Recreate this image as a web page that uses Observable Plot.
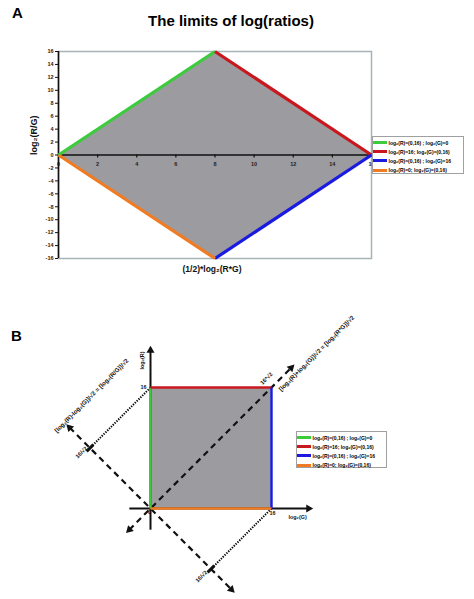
<!DOCTYPE html>
<html>
<head>
<meta charset="utf-8">
<script src="https://cdn.jsdelivr.net/npm/d3@7"></script>
<script src="https://cdn.jsdelivr.net/npm/@observablehq/plot@0.6"></script>
<style>
  body { margin: 0; background: #fff; font-family: "Liberation Sans", Arial, sans-serif; }
  #wrap { position: relative; width: 474px; height: 599px; overflow: hidden; }
  .abs { position: absolute; }
  .letter { font-weight: bold; font-size: 15px; }
  .title { font-weight: bold; font-size: 15px; text-align: center; }
  .legend { border: 1px solid #a0a0a0; background: #fff; box-sizing: border-box; padding: 1px 0 0 0; }
  .legend .row { display: flex; align-items: center; height: 9.2px; font-size: 5px; font-weight: bold; white-space: nowrap; }
  .legend .sw { width: 14px; height: 3px; margin-right: 1.5px; }
</style>
</head>
<body>
<div id="wrap"></div>
<script>
// ---------- data ----------
const seriesNames = [
  "log₂(R)=(0,16) ; log₂(G)=0",
  "log₂(R)=16; log₂(G)=(0,16)",
  "log₂(R)=(0,16) ; log₂(G)=16",
  "log₂(R)=0; log₂(G)=(0,16)"
];
const seriesColors = ["#3ccb3c", "#c8181e", "#1a1ae0", "#f07b22"];

// Panel A: x = (1/2)*log2(R*G), y = log2(R/G)
const aAreaX = [0, 8, 16];
const aAreaTop = [0, 16, 0];
const aAreaBottom = [0, -16, 0];
const aSegX1 = [0, 8, 16, 0];
const aSegY1 = [0, 16, 0, 0];
const aSegX2 = [8, 16, 8, 8];
const aSegY2 = [16, 0, -16, -16];
const aXTicks = [0, 2, 4, 6, 8, 10, 12, 14, 16];
const aYTicks = [-16, -14, -12, -10, -8, -6, -4, -2, 0, 2, 4, 6, 8, 10, 12, 14, 16];

// Panel B: x = log2(G), y = log2(R)
const bMax = 16;
const bSquareX = [0, 16];
const bSquareY = [0, 16];
const bSegX1 = [0, 0, 16, 0];
const bSegY1 = [0, 16, 16, 0];
const bSegX2 = [0, 16, 16, 16];
const bSegY2 = [16, 16, 0, 0];
const bAxisReach = [-2.8, 20.9];      // extents of the log2(G) / log2(R) axes
const bDiagReach = [-2.8, 18.6];      // extent of the R*G diagonal
const bAntiReach = 10.7;              // half extent of the R/G diagonal
const bLabelDiag = "[log₂(R)+log₂(G)]/√2 = [log₂(R*G)]/√2";
const bLabelAnti = "[log₂(R)-log₂(G)]/√2 = [log₂(R/G)]/√2";

const wrap = document.getElementById("wrap");
const font = "Liberation Sans, Arial, sans-serif";

// ---------- Panel A ----------
const aArea = aAreaX.map((x, i) => ({x, y1: aAreaBottom[i], y2: aAreaTop[i]}));
const aSegs = aSegX1.map((x1, i) => ({x1, y1: aSegY1[i], x2: aSegX2[i], y2: aSegY2[i], c: seriesColors[i]}));

const plotA = Plot.plot({
  width: 474, height: 290,
  marginLeft: 58, marginRight: 103, marginTop: 51, marginBottom: 32,
  style: {fontFamily: font, background: "transparent"},
  x: {domain: [0, 16], axis: null},
  y: {domain: [-16, 16], axis: null},
  marks: [
    Plot.areaY(aArea, {x: "x", y1: "y1", y2: "y2", fill: "#9b9ba0"}),
    Plot.frame({stroke: "#a8b3b8", strokeWidth: 1.5}),
    Plot.ruleY([0], {stroke: "#111", strokeWidth: 1.6}),
    Plot.ruleX(aXTicks.slice(1, -1), {x: d => d, y1: 0, y2: -0.45, stroke: "#111", strokeWidth: 1.2}),
    Plot.text(aXTicks, {x: d => d, y: 0, text: d => String(d), dy: 9, fontSize: 5.5, fontWeight: "bold", fill: "#222"}),
    Plot.ruleX([0], {stroke: "#111", strokeWidth: 1.6}),
    Plot.axisY(aYTicks, {ticks: aYTicks, tickSize: 3, tickPadding: 2, tickFormat: d => String(d), fontSize: 5.5, fontWeight: "bold", label: null, stroke: "#111", fill: "#222"}),
    Plot.link(aSegs, {x1: "x1", y1: "y1", x2: "x2", y2: "y2", stroke: "c", strokeWidth: 3.2}),
    Plot.text(["log₂(R/G)"], {frameAnchor: "left", text: d => d, dx: -24, rotate: -90, fontSize: 9, fontWeight: "bold", fill: "#111"}),
    Plot.text(["(1/2)*log₂(R*G)"], {frameAnchor: "bottom", text: d => d, dx: -3, dy: 13, fontSize: 8.5, fontWeight: "bold", fill: "#111"})
  ]
});
plotA.style.position = "absolute"; plotA.style.left = "0px"; plotA.style.top = "0px";
wrap.appendChild(plotA);

// ---------- Panel B ----------
const bSegs = bSegX1.map((x1, i) => ({x1, y1: bSegY1[i], x2: bSegX2[i], y2: bSegY2[i], c: seriesColors[i]}));
const proj = bMax / 2; // projection of the corners on the R/G diagonal (16/√2 along it)
const axisLines = [
  {x1: 0, y1: bAxisReach[0], x2: 0, y2: bAxisReach[1]},
  {x1: bAxisReach[0], y1: 0, x2: bAxisReach[1], y2: 0}
];
const dashLines = [
  {x1: bDiagReach[0], y1: bDiagReach[0], x2: bDiagReach[1], y2: bDiagReach[1]},
  {x1: -bAntiReach, y1: bAntiReach, x2: bAntiReach, y2: -bAntiReach}
];
const dotLines = [
  {x1: 0, y1: bMax, x2: -proj, y2: proj},
  {x1: bMax, y1: 0, x2: proj, y2: -proj}
];
const tickMarks = [
  {x1: -proj - 0.45, y1: proj - 0.45, x2: -proj + 0.45, y2: proj + 0.45},
  {x1: proj - 0.45, y1: -proj - 0.45, x2: proj + 0.45, y2: -proj + 0.45}
];
const heads = [
  {x: 0, y: bAxisReach[1], r: 0},
  {x: bAxisReach[1], y: 0, r: 90},
  {x: bDiagReach[1], y: bDiagReach[1], r: 45},
  {x: bDiagReach[0], y: bDiagReach[0], r: 225},
  {x: -bAntiReach, y: bAntiReach, r: -45},
  {x: bAntiReach, y: -bAntiReach, r: 135}
];
const bTexts = [
  {x: bDiagReach[1], y: bDiagReach[1], t: bLabelDiag, dx: 25.5, dy: -14.5, rot: -45, fs: 6.1},
  {x: -bAntiReach, y: bAntiReach, t: bLabelAnti, dx: 22, dy: -32, rot: -45, fs: 6.1},
  {x: -proj, y: proj, t: "16/√2", dx: -8.5, dy: 4.5, rot: -45, fs: 5.6},
  {x: proj, y: -proj, t: "16/√2", dx: -9.5, dy: 7.5, rot: -45, fs: 5.6},
  {x: bMax, y: bMax, t: "16*√2", dx: -5, dy: -9, rot: -45, fs: 5.6},
  {x: 0, y: bAxisReach[1], t: "log₂(R)", dx: -8, dy: 10, rot: -90, fs: 5.4},
  {x: bAxisReach[1], y: 0, t: "log₂(G)", dx: -11, dy: 9, rot: 0, fs: 5.4},
  {x: 0, y: bMax, t: "16", dx: -7, dy: 0, rot: 0, fs: 5.4},
  {x: bMax, y: 0, t: "16", dx: 1, dy: 5, rot: 0, fs: 5.4},
  {x: 0, y: 0, t: "0", dx: -1, dy: 4, rot: 0, fs: 5.4}
];

const plotB = Plot.plot({
  width: 474, height: 309,
  marginLeft: 29, marginRight: 21.5, marginTop: 6.25, marginBottom: 7.8,
  style: {fontFamily: font, background: "transparent"},
  x: {domain: [-16, 40], axis: null},
  y: {domain: [-11, 28], axis: null},
  marks: [
    Plot.rect([0], {x1: bSquareX[0], x2: bSquareX[1], y1: bSquareY[0], y2: bSquareY[1], fill: "#9b9ba0"}),
    Plot.link(dotLines, {x1: "x1", y1: "y1", x2: "x2", y2: "y2", stroke: "#000", strokeWidth: 2, strokeDasharray: "1.3,1.3"}),
    Plot.link(dashLines, {x1: "x1", y1: "y1", x2: "x2", y2: "y2", stroke: "#111", strokeWidth: 2.2, strokeDasharray: "6,4.5"}),
    Plot.link(tickMarks, {x1: "x1", y1: "y1", x2: "x2", y2: "y2", stroke: "#111", strokeWidth: 3}),
    Plot.link(axisLines, {x1: "x1", y1: "y1", x2: "x2", y2: "y2", stroke: "#111", strokeWidth: 2}),
    Plot.link(bSegs, {x1: "x1", y1: "y1", x2: "x2", y2: "y2", stroke: "c", strokeWidth: 2.4}),
    Plot.dot(heads, {x: "x", y: "y", rotate: "r", symbol: "triangle", r: 3, fill: "#111", stroke: "none"}),
    ...bTexts.map(t => Plot.text([t], {x: "x", y: "y", text: "t", dx: t.dx, dy: t.dy, rotate: t.rot, fontSize: t.fs, fontWeight: "bold", fill: "#111"}))
  ]
});
plotB.style.position = "absolute"; plotB.style.left = "0px"; plotB.style.top = "290px";
wrap.appendChild(plotB);

// ---------- HTML overlays: letters, title, legends ----------
function addDiv(cls, text, css) {
  const d = document.createElement("div");
  d.className = "abs " + cls;
  d.textContent = text;
  Object.assign(d.style, css);
  wrap.appendChild(d);
  return d;
}
addDiv("letter", "A", {left: "12px", top: "4px"});
addDiv("letter", "B", {left: "11px", top: "327px"});
addDiv("title", "The limits of log(ratios)", {left: "0px", width: "462px", top: "12px"});

function legend(left, top, w, h) {
  const box = document.createElement("div");
  box.className = "abs legend";
  Object.assign(box.style, {left: left + "px", top: top + "px", width: w + "px", height: h + "px"});
  seriesNames.forEach((name, i) => {
    const row = document.createElement("div");
    row.className = "row";
    const sw = document.createElement("div");
    sw.className = "sw";
    sw.style.background = seriesColors[i];
    const tx = document.createElement("span");
    tx.textContent = name;
    row.appendChild(sw); row.appendChild(tx);
    box.appendChild(row);
  });
  wrap.appendChild(box);
}
legend(372, 136, 92, 38);
legend(296, 431, 91, 37);
</script>
</body>
</html>
